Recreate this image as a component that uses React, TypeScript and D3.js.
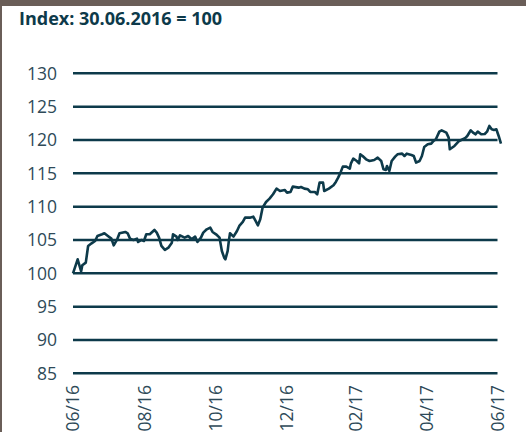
import React from "react";
import * as d3 from "d3";

const TITLE = "Index: 30.06.2016 = 100";
const START_DATE = "2016-06-30";
const END_DATE = "2017-06-30";

// days since 30.06.2016
const dayOffsets = [
  0, 4, 7, 8, 11, 13, 16, 19, 21, 25, 27, 30, 33, 35, 38, 40, 45, 47, 49, 52,
  55, 56, 59, 61, 63, 66, 70, 72, 74, 76, 79, 82, 85, 86, 89, 90, 92, 96, 99, 102,
  105, 107, 110, 112, 115, 118, 120, 123, 126, 128, 130, 131, 133, 134, 135, 138, 141, 143, 146, 148,
  152, 155, 157, 159, 161, 163, 166, 169, 172, 175, 178, 182, 184, 187, 189, 194, 196, 199, 202, 204,
  208, 210, 212, 215, 216, 220, 224, 226, 228, 230, 232, 235, 238, 239, 241, 244, 246, 247, 249, 252,
  255, 259, 262, 265, 267, 269, 270, 272, 274, 277, 279, 283, 285, 287, 291, 293, 295, 298, 300, 302,
  305, 308, 310, 312, 315, 317, 321, 323, 324, 328, 332, 337, 339, 342, 344, 346, 348, 351, 354, 356,
  358, 360, 362, 364, 366, 368,
];

const indexValues = [
  100.0, 102.1, 100.3, 101.2, 101.6, 104.1, 104.5, 104.85, 105.6, 105.85, 106.0, 105.6, 105.2, 104.2, 105.1, 106.0, 106.2, 106.0, 105.2, 105.0,
  105.2, 104.7, 105.0, 104.85, 105.85, 105.85, 106.5, 106.1, 105.35, 104.1, 103.5, 103.85, 104.6, 105.85, 105.5, 105.0, 105.7, 105.35, 105.6, 105.1,
  105.5, 104.7, 105.35, 106.1, 106.6, 106.85, 106.2, 105.85, 105.35, 103.35, 102.35, 102.1, 103.35, 104.85, 106.0, 105.5, 106.35, 107.1, 107.7, 108.35,
  108.35, 108.5, 107.85, 107.2, 108.1, 109.85, 110.7, 111.2, 111.85, 112.7, 112.35, 112.5, 112.1, 112.2, 113.0, 112.85, 112.95, 112.7, 112.6, 112.2,
  112.2, 111.85, 113.6, 113.6, 112.35, 112.7, 113.2, 113.7, 114.35, 115.1, 116.0, 116.0, 115.7, 116.5, 117.2, 116.85, 116.5, 117.85, 117.6, 117.1,
  116.85, 117.0, 117.35, 116.85, 115.6, 115.5, 116.1, 115.35, 116.85, 117.5, 117.85, 117.95, 117.6, 117.95, 117.75, 117.6, 116.6, 116.85, 117.6, 118.95,
  119.35, 119.45, 119.85, 120.1, 121.25, 121.45, 121.1, 120.35, 118.6, 119.1, 119.85, 120.25, 120.6, 121.45, 121.1, 120.85, 121.25, 120.85, 120.9, 121.25,
  122.1, 121.6, 121.5, 121.6, 120.6, 119.45,
];

const yTicks = [85, 90, 95, 100, 105, 110, 115, 120, 125, 130];
const xTickDates = ["2016-06-30", "2016-08-31", "2016-10-31", "2016-12-31", "2017-02-28", "2017-04-30", "2017-06-30"];
const xTickLabels = ["06/16", "08/16", "10/16", "12/16", "02/17", "04/17", "06/17"];

const W = 526;
const H = 432;
const DARK = "#0d3a4a";
const LABEL = "#2e4a58";
const FRAME = "#6a5e58";
const FONT = "'Open Sans', 'Noto Sans', sans-serif";

export default function App() {
  const parse = d3.utcParse("%Y-%m-%d");
  const start = parse(START_DATE) as Date;
  const end = parse(END_DATE) as Date;

  const x = d3.scaleUtc().domain([start, end]).range([73, 497.5]);
  const y = d3.scaleLinear().domain([85, 130]).range([373.3, 73.3]);

  const data = dayOffsets.map((d, i) => ({
    date: d3.utcDay.offset(start, d),
    value: indexValues[i],
  }));

  const line = d3
    .line<{ date: Date; value: number }>()
    .x((d) => x(d.date))
    .y((d) => y(d.value))
    .curve(d3.curveLinear);

  const [x0, x1] = x.range();

  return (
    <svg
      width={W}
      height={H}
      style={{ position: "fixed", left: 0, top: 0, background: "#fff" }}
      fontFamily={FONT}
    >
      <rect x={0} y={0} width={W} height={H} fill="#fff" />
      <rect x={0} y={0} width={W} height={6} fill={FRAME} />
      <rect x={0} y={0} width={2} height={H} fill={FRAME} />
      <text x={19} y={25} fontSize={18} fontWeight={700} fill={DARK}>
        {TITLE}
      </text>
      {yTicks.map((t) => (
        <g key={t}>
          <line x1={x0} x2={x1} y1={y(t)} y2={y(t)} stroke={DARK} strokeWidth={2.5} />
          <text x={57} y={y(t)} dy="0.36em" textAnchor="end" fontSize={17.5} fill={LABEL}>
            {t}
          </text>
        </g>
      ))}
      {xTickDates.map((d, i) => {
        const px = x(parse(d) as Date);
        return (
          <text
            key={d}
            transform={`translate(${px},385) rotate(-90)`}
            textAnchor="end"
            dy="0.36em"
            fontSize={17.5}
            fill={LABEL}
          >
            {xTickLabels[i]}
          </text>
        );
      })}
      <path d={line(data) || ""} fill="none" stroke={DARK} strokeWidth={2.6} strokeLinejoin="round" />
    </svg>
  );
}
